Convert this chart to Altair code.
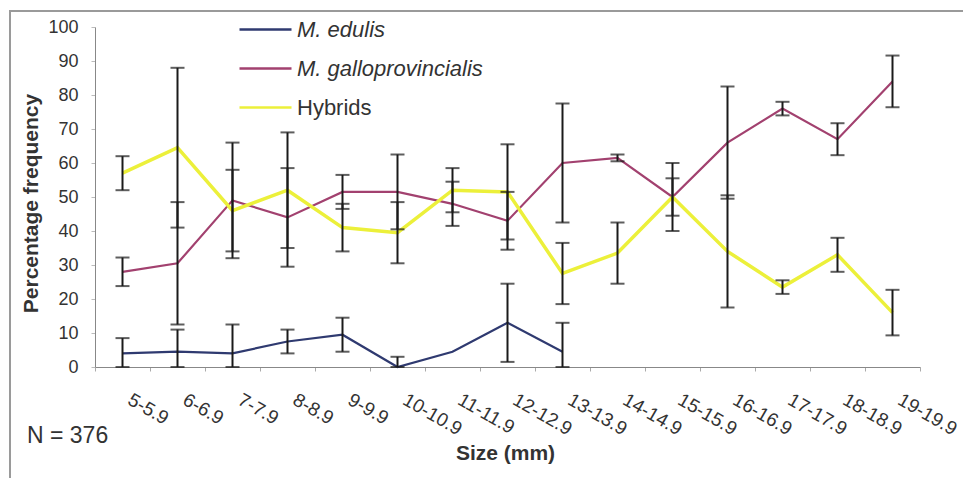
import altair as alt
import pandas as pd

categories = ["5-5.9", "6-6.9", "7-7.9", "8-8.9", "9-9.9", "10-10.9", "11-11.9",
              "12-12.9", "13-13.9", "14-14.9", "15-15.9", "16-16.9", "17-17.9",
              "18-18.9", "19-19.9"]
series_names = ["M. edulis", "M. galloprovincialis", "Hybrids"]
series_colors = ["#2f3a70", "#a2416f", "#ecf03a"]
y_ticks = [0, 10, 20, 30, 40, 50, 60, 70, 80, 90, 100]

edulis = [4, 4.5, 4, 7.5, 9.5, 0, 4.5, 13, 4.5, None, None, None, None, None, None]
edulis_err = [4.5, 6.5, 8.5, 3.5, 5, 3, None, 11.5, 8.5, None, None, None, None, None, None]
gallo = [28, 30.5, 49, 44, 51.5, 51.5, 48, 43, 60, 61.5, 50, 66, 76, 67, 84]
gallo_err = [4.2, 18, 17, 14.5, 5, 11, 6.5, 8.5, 17.5, 1, 10, 16.5, 2, 4.7, 7.6]
hybrids = [57, 64.5, 46, 52, 41, 39.5, 52, 51.5, 27.5, 33.5, 50, 34, 23.5, 33, 16]
hybrids_err = [5, 23.5, 12, 17, 7, 9, 6.5, 14, 9, 9, 5.5, 16.5, 2, 5, 6.7]
n_label = "N = 376"

rows = []
for name, vals, errs in zip(series_names, [edulis, gallo, hybrids],
                            [edulis_err, gallo_err, hybrids_err]):
    for cat, v, e in zip(categories, vals, errs):
        if v is None:
            continue
        row = {"size": cat, "series": name, "pct": v, "lo": None, "hi": None}
        if e is not None:
            row["lo"] = max(0, v - e)
            row["hi"] = min(100, v + e)
        rows.append(row)
df = pd.DataFrame(rows)
err_df = df.dropna(subset=["lo"]).copy()

FONT = "Liberation Sans"

x_axis = alt.Axis(
    title="Size (mm)", titleFont=FONT, titleFontSize=21, titleFontWeight="bold",
    titleColor="#333", titleX=410, titleY=86, titleBaseline="middle",
    labelAngle=30, labelAlign="left", labelBaseline="top", labelOffset=11,
    labelPadding=19, labelFont=FONT, labelFontSize=19, labelColor="#333",
    tickBand="extent", tickSize=4, tickColor="#aaa", domainColor="#888",
    labelOverlap=False, grid=False,
)
x_scale = alt.Scale(type="band", domain=categories, paddingInner=0, paddingOuter=0)

y_axis = alt.Axis(
    title="Percentage frequency", titleFont=FONT, titleFontSize=21,
    titleFontWeight="bold", titleColor="#333", titleX=-64, titleY=176,
    titleAngle=270, titleBaseline="middle", titleAlign="center",
    values=y_ticks, tickSize=4, tickColor="#bbb",
    domainColor="#888", labelPadding=13, labelFont=FONT, labelFontSize=18,
    labelColor="#333", labelOverlap=False, labelSeparation=0, grid=False,
)
y_scale = alt.Scale(domain=[0, 100], nice=False)

def xe():
    return alt.X("size:N", sort=categories, scale=x_scale, axis=x_axis)

def ye(field):
    return alt.Y(field, scale=y_scale, axis=y_axis)

color_enc = alt.Color(
    "series:N",
    scale=alt.Scale(domain=series_names, range=series_colors),
    sort=series_names,
    legend=alt.Legend(
        title=None, orient="none", legendX=159, legendY=-9,
        symbolType="M-2.6,0H2.6", symbolSize=400, symbolStrokeWidth=2.5,
        labelOffset=20, labelFont=FONT, labelFontSize=22, labelColor="#333",
        labelFontStyle=alt.ExprRef("datum.label == 'Hybrids' ? 'normal' : 'italic'"),
        labelLimit=400, rowPadding=16, padding=0,
    ),
)

lines = alt.Chart(df).mark_line().encode(
    x=xe(),
    y=ye("pct:Q"),
    color=color_enc,
    strokeWidth=alt.condition(alt.datum.series == "Hybrids", alt.value(3.5), alt.value(2.2)),
)

bars = alt.Chart(err_df).mark_rule(color="#1a1a1a", strokeWidth=2).encode(
    x=xe(), y=ye("lo:Q"), y2="hi:Q",
)
caps_lo = alt.Chart(err_df).mark_tick(color="#1a1a1a", size=14, thickness=2).encode(
    x=xe(), y=ye("lo:Q")
)
caps_hi = alt.Chart(err_df).mark_tick(color="#1a1a1a", size=14, thickness=2).encode(
    x=xe(), y=ye("hi:Q")
)

note = alt.Chart(pd.DataFrame({"t": [n_label]})).mark_text(
    align="left", baseline="alphabetic", font=FONT, fontSize=23, color="#333"
).encode(text="t:N", x=alt.value(-68), y=alt.value(416))

frame = alt.Chart(pd.DataFrame({"a": [0]})).mark_rect(
    fillOpacity=0, stroke="#9a9a9a", strokeWidth=2
).encode(x=alt.value(-85), x2=alt.value(960), y=alt.value(-16), y2=alt.value(520))

chart = alt.layer(lines, bars, caps_lo, caps_hi, note, frame).properties(
    width=825, height=340,
    autosize=alt.AutoSizeParams(type="none"),
    padding={"left": 95, "top": 27, "right": 43, "bottom": 111},
    background="white",
).configure_view(stroke=None).configure_axis(
    labelOverlap=False
).configure_axisY(
    labelFontSize=18, labelOverlap=False, labelSeparation=0
)

chart.save("out.html", embed_options={"renderer": "svg", "actions": False})
